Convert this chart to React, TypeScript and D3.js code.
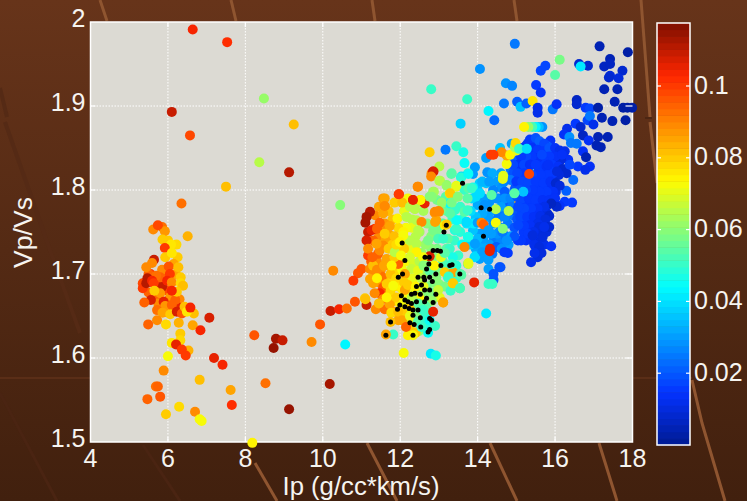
import React, { useEffect, useRef } from 'react';
import * as d3 from 'd3';

type Pt = [number, number, number];

const xTicks = [4, 6, 8, 10, 12, 14, 16, 18];
const yTicks = [1.5, 1.6, 1.7, 1.8, 1.9, 2];
const colorTicks = [0.02, 0.04, 0.06, 0.08, 0.1];
const COLOR_MAX = 0.1176;

// ip, vp/vs, porosity
const leftFill: Pt[] = [
  [5.55,1.7,.1],[5.75,1.685,.1],[5.9,1.7,.095],[6,1.68,.098],[5.85,1.685,.11],[5.7,1.67,.095],[5.95,1.655,.095],[6.15,1.66,.1],[6.2,1.7,.085],[6.25,1.72,.08],[6,1.74,.08],[5.5,1.7,.095],[5.75,1.665,.09],[6.3,1.67,.09],[6.28,1.66,.105],[5.98,1.668,.1],[5.85,1.705,.09],[6.15,1.712,.085],[6.22,1.735,.078],[5.5,1.678,.095],
];

const leftPoints: Pt[] = [
  [6.64,1.991,.104],[7.53,1.976,.102],[6.1,1.893,.109],[6.57,1.865,.098],[8.48,1.909,.062],[9.25,1.878,.082],[8.36,1.833,.066],[9.13,1.821,.111],[7.5,1.804,.082],[10.45,1.782,.06],[6.35,1.784,.092],
  [5.85,1.756,.092],[5.62,1.753,.09],[5.92,1.751,.088],[5.74,1.758,.098],[5.86,1.741,.08],[6.51,1.745,.083],[6.08,1.735,.077],[5.92,1.731,.1],
  [5.64,1.717,.11],[5.59,1.713,.09],[5.44,1.708,.09],[5.93,1.72,.08],[6.1,1.725,.076],[6.02,1.709,.097],[6.27,1.708,.082],
  [6.05,1.7,.1],[5.8,1.696,.095],[5.7,1.698,.092],[5.35,1.689,.098],[5.35,1.683,.1],[5.47,1.695,.112],[5.44,1.689,.112],[5.59,1.692,.104],[5.63,1.689,.1],[5.98,1.692,.104],[6.1,1.69,.09],
  [6.33,1.696,.08],[6.33,1.689,.079],[6.39,1.686,.082],[6.15,1.674,.098],[5.8,1.677,.088],[5.65,1.68,.08],[6.06,1.673,.088],[6.19,1.669,.095],[6.23,1.679,.08],[6.1,1.68,.103],
  [5.56,1.669,.108],[5.39,1.666,.095],[5.89,1.667,.105],[5.93,1.662,.088],[6.1,1.663,.095],[5.72,1.657,.092],[5.86,1.654,.085],[6.06,1.652,.08],[6.23,1.655,.107],[6.36,1.653,.097],[6.43,1.661,.082],[6.67,1.653,.082],[6.49,1.655,.077],[6.58,1.66,.103],[7.07,1.648,.108],
  [5.72,1.645,.09],[5.49,1.64,.095],[5.95,1.64,.078],[6.28,1.642,.083],[6.64,1.639,.085],[6.84,1.633,.104],[6.32,1.629,.08],[6.32,1.621,.078],[6.1,1.618,.076],[6.53,1.609,.083],[6.21,1.616,.105],[6.36,1.61,.1],[6.46,1.603,.1],[6.0,1.602,.072],[7.19,1.6,.106],[7.41,1.592,.103],
  [5.89,1.585,.09],[6.82,1.574,.082],[5.69,1.566,.092],[5.74,1.566,.095],[7.62,1.562,.085],[8.52,1.57,.093],[5.8,1.554,.096],[5.47,1.551,.094],[7.65,1.544,.102],[6.29,1.542,.079],[6.7,1.536,.09],[5.95,1.533,.08],[6.82,1.527,.072],[6.87,1.525,.072],[9.13,1.539,.114],[8.18,1.499,.074],[10.18,1.569,.113],
  [8.23,1.627,.097],[8.79,1.623,.113],[8.96,1.621,.11],[8.73,1.612,.115],[9.71,1.619,.09],[10.58,1.616,.043],[9.93,1.64,.097],[10.2,1.656,.11],[10.42,1.658,.103],[10.62,1.659,.093],[10.83,1.667,.096],[10.27,1.704,.09],
];

const upperRightPoints: Pt[] = [
  [14.96,1.974,.024],[14.06,1.944,.028],[12.8,1.92,.05],[13.73,1.908,.05],[14.28,1.894,.043],[14.43,1.883,.023],[13.56,1.879,.038],[14.73,1.927,.028],[14.89,1.924,.027],[15.51,1.925,.016],[15.63,1.916,.014],[15.63,1.942,.018],[15.75,1.948,.018],[16.12,1.955,.058],[16,1.937,.055],[16.62,1.95,.008],[16.85,1.948,.008],[16.66,1.947,.042],
  [17.15,1.971,.004],[17.42,1.956,.004],[17.88,1.964,.003],[17.27,1.947,.006],[17.42,1.95,.006],[17.74,1.942,.008],[17.42,1.936,.01],[17.39,1.934,.009],[17.64,1.933,.011],[17.27,1.92,.005],[17.61,1.92,.005],[16.56,1.907,.007],[16.56,1.902,.008],[17.54,1.905,.005],[16.79,1.898,.015],[16.9,1.897,.018],[17.11,1.898,.003],[17.76,1.898,.003],[17.87,1.898,.003],[17.99,1.898,.003],[17.21,1.886,.004],[17.48,1.882,.004],[17.82,1.883,.003],[16.84,1.883,.018],[16.9,1.888,.025],[16.99,1.878,.012],
  [14.68,1.903,.025],[15.02,1.905,.022],[15.11,1.899,.035],[15.26,1.903,.022],[15.42,1.906,.077],[15.55,1.898,.012],[15.55,1.892,.012],[15.94,1.896,.024],[16.04,1.902,.013],
  [15.67,1.875,.028],[15.58,1.875,.035],[15.5,1.875,.043],[15.41,1.875,.052],[15.31,1.875,.062],[15.2,1.875,.075],
  [16.53,1.879,.015],[16.66,1.875,.008],[16.31,1.873,.012],[16.23,1.866,.013],[16.72,1.865,.007],[16.37,1.863,.028],[16.41,1.856,.025],[16.56,1.855,.025],[16.87,1.859,.014],[17.11,1.863,.005],[17.36,1.863,.005],[17.07,1.853,.005],[17.18,1.851,.004],[16.72,1.846,.013],[16.8,1.839,.004],[15.88,1.859,.014],[16.34,1.836,.014],[16.59,1.828,.015],[16.9,1.828,.013],[16.78,1.824,.012],[16.47,1.812,.023],[16.29,1.799,.022],[16.25,1.786,.015],[16.44,1.785,.015],[16.12,1.781,.014],
];

const cyanPoints: Pt[] = [
  [13.93,1.827,.03],[13.88,1.819,.03],[14.25,1.821,.028],[14.22,1.838,.03],[14.58,1.85,.035],[14.88,1.855,.03],[13.17,1.848,.024],[14.5,1.81,.03],[14.62,1.802,.028],[14.4,1.8,.027],[14.55,1.79,.025],[14.7,1.798,.022],[14.3,1.785,.028],[14.15,1.79,.03],[14.0,1.782,.032],[14.45,1.775,.026],[14.62,1.772,.024],[14.78,1.78,.022],[14.9,1.77,.024],[14.28,1.768,.03],[14.12,1.772,.033],[13.95,1.768,.036],[13.82,1.775,.04],[14.4,1.76,.028],[14.6,1.755,.026],[14.78,1.76,.024],[14.95,1.755,.02],[14.2,1.752,.03],[14.05,1.748,.03],[13.88,1.752,.036],[13.72,1.76,.042],[14.42,1.742,.025],[14.58,1.738,.027],[14.72,1.745,.024],[14.8,1.735,.03],[14.3,1.735,.03],[14.1,1.735,.032],[13.95,1.73,.032],[13.8,1.735,.038],[14.2,1.725,.03],[14.38,1.724,.025],[14.05,1.718,.03],[13.94,1.721,.04],[14.28,1.717,.03],[14.28,1.706,.03],[14.59,1.708,.02],[14.41,1.693,.02],[14.48,1.76,.03],[14.86,1.745,.03],
  [14.6,1.82,.03],[14.75,1.815,.026],[14.85,1.825,.024],[14.95,1.835,.022],[14.8,1.835,.024],[14.7,1.79,.028],[14.95,1.8,.022],[14.85,1.79,.026],[14.6,1.78,.03],[14.22,1.808,.035],[14.05,1.808,.038],[14.38,1.82,.032],
  [14.18,1.782,.028],[14.36,1.776,.03],[14.52,1.766,.024],[14.7,1.768,.026],[14.88,1.78,.024],[14.5,1.748,.028],[14.64,1.75,.024],[14.35,1.748,.03],[14.15,1.742,.03],[14,1.742,.034],[14.48,1.732,.022],[14.62,1.73,.028],[14.12,1.726,.03],[13.85,1.79,.04],[14,1.8,.036],[14.12,1.81,.034],[14.3,1.81,.03],[14.48,1.79,.028],[14.68,1.81,.026],[14.92,1.812,.024],[13.95,1.792,.04],[13.9,1.76,.042],
];

const hiddenGreens: Pt[] = [[15.45,1.829,.06],[15.5,1.82,.06],[15.22,1.788,.06],[15.5,1.79,.07],[14.98,1.79,.085]];

const blueFill: Pt[] = [
  [15.15,1.85,.017],[15.3,1.856,.017],[15.45,1.856,.015],[15.62,1.852,.017],[15.8,1.852,.021],[15.92,1.845,.016],[16.08,1.84,.015],[15.3,1.845,.016],[15.48,1.844,.017],[15.62,1.834,.015],[15.9,1.835,.014],[16.05,1.834,.012],[15.15,1.835,.017],[15.3,1.824,.018],[15.45,1.812,.016],[15.58,1.824,.016],[15.72,1.824,.015],[15.88,1.824,.014],[16,1.826,.013],[15.1,1.825,.018],[14.98,1.825,.02],[15.08,1.815,.018],[15.22,1.815,.017],[15.38,1.813,.016],[15.6,1.812,.015],[15.75,1.813,.015],[15.95,1.814,.013],[14.92,1.82,.02],[14.98,1.804,.02],[15.12,1.804,.018],[15.25,1.805,.017],[15.4,1.805,.016],[15.58,1.804,.015],[15.72,1.803,.014],[15.88,1.802,.013],[16.02,1.798,.012],[15.2,1.794,.018],[15.35,1.795,.016],[15.55,1.793,.015],[15.7,1.794,.014],[15.85,1.794,.012],[15.98,1.785,.011],[15.02,1.792,.02],[15.1,1.784,.018],[15.27,1.784,.016],[15.45,1.783,.015],[15.6,1.783,.014],[15.8,1.782,.012],[14.98,1.775,.02],[15.15,1.773,.017],[15.32,1.773,.016],[15.5,1.773,.014],[15.68,1.775,.013],[15.8,1.772,.011],[15.02,1.765,.019],[15.18,1.763,.017],[15.38,1.764,.015],[15.55,1.766,.013],[15.7,1.762,.011],[15.28,1.755,.016],[15.45,1.758,.014],[15.62,1.75,.011],[15.78,1.75,.01],[15.18,1.75,.016],[15.36,1.742,.014],[15.5,1.74,.012],[15.62,1.738,.011],[15.25,1.74,.014],[15.72,1.735,.012],[15.55,1.72,.011],[15.46,1.735,.012],
];

const blueCluster: Pt[] = [
  [15.35,1.86,.015],[15.5,1.862,.019],[15.6,1.858,.022],[15.72,1.855,.017],[15.25,1.853,.015],[15.4,1.85,.014],[15.55,1.848,.016],[15.7,1.846,.016],[15.85,1.85,.019],[16,1.85,.014],[16.12,1.847,.012],[16.25,1.846,.012],[16.15,1.836,.01],[16,1.84,.013],[15.85,1.84,.016],[15.7,1.836,.016],[15.55,1.838,.014],[15.4,1.84,.015],[15.25,1.84,.017],[15.12,1.84,.015],[15.05,1.83,.014],[15.2,1.83,.017],[15.35,1.83,.014],[15.6,1.828,.016],[15.78,1.828,.014],[15.92,1.83,.016],[16.08,1.828,.014],[16.2,1.825,.009],[16.3,1.82,.009],[16.38,1.83,.018],[16.1,1.818,.011],[15.95,1.82,.016],[15.8,1.818,.015],[15.62,1.818,.016],[15.4,1.818,.017],[15.2,1.82,.015],[15.02,1.82,.017],[14.92,1.83,.018],[14.85,1.812,.024],[15,1.81,.016],[15.15,1.81,.017],[15.3,1.808,.017],[15.5,1.81,.016],[15.7,1.808,.016],[15.88,1.81,.014],[16.02,1.808,.009],[16.12,1.805,.01],[15.95,1.798,.014],[15.78,1.798,.015],[15.6,1.798,.015],[15.42,1.8,.016],[15.25,1.8,.018],[15.08,1.8,.019],[15.15,1.79,.017],[15.32,1.79,.016],[15.5,1.788,.016],[15.68,1.788,.014],[15.85,1.788,.014],[16,1.79,.014],[16.04,1.78,.008],[15.9,1.784,.007],[15.72,1.78,.012],[15.55,1.778,.014],[15.38,1.778,.015],[15.2,1.778,.017],[15.05,1.78,.018],[15.1,1.768,.017],[15.28,1.768,.015],[15.45,1.768,.014],[15.62,1.769,.012],[15.85,1.769,.009],[15.75,1.765,.011],[15.55,1.76,.012],[15.35,1.758,.014],[15.2,1.757,.015],[15.05,1.758,.018],[15.85,1.756,.009],[15.59,1.756,.01],[15.72,1.756,.012],[15.45,1.75,.012],[15.3,1.748,.015],[15.68,1.744,.01],[15.42,1.746,.011],[15.12,1.74,.016],[15.04,1.74,.016],[15.9,1.733,.013],[15.59,1.732,.01],[15.65,1.725,.01],[15.47,1.725,.012],[15.38,1.714,.012],[14.95,1.745,.02],[14.78,1.725,.015],[14.69,1.726,.015],[14.56,1.708,.02],[14.75,1.74,.028],
  [16.18,1.842,.013],[16.05,1.822,.01],[15.5,1.83,.016],[15.66,1.842,.018],[15.82,1.83,.013],
];

const midFill: Pt[] = [
  [11.35,1.77,.09],[11.45,1.78,.085],[11.7,1.775,.082],[11.85,1.785,.08],[12.1,1.775,.07],[12.2,1.79,.072],[12.45,1.785,.066],[12.6,1.775,.064],[12.3,1.765,.066],[12.5,1.75,.064],[12.7,1.76,.06],[12.8,1.745,.06],[12.95,1.752,.058],[13.1,1.76,.055],[13.2,1.775,.055],[13.05,1.775,.058],[12.95,1.788,.058],[13.18,1.792,.055],[13.35,1.765,.05],[13.55,1.78,.05],[13.6,1.765,.048],[13.55,1.75,.048],[13.4,1.74,.05],[13.6,1.735,.045],[13.5,1.722,.05],[13.2,1.73,.055],[13.1,1.715,.055],[12.95,1.73,.058],[12.8,1.73,.06],[12.65,1.735,.062],[12.55,1.725,.062],[12.4,1.745,.066],[12.3,1.755,.07],[12.15,1.755,.072],[12.1,1.738,.072],[12.25,1.73,.07],[11.95,1.755,.078],[11.8,1.765,.082],[11.6,1.76,.088],[11.45,1.745,.09],[11.3,1.74,.095],[11.62,1.74,.085],[11.8,1.735,.08],[11.95,1.725,.075],[12.15,1.715,.072],[12.35,1.712,.068],[12.5,1.715,.065],[12.7,1.72,.06],[12.85,1.72,.06],[12.98,1.705,.058],[13.2,1.71,.052],[13.3,1.7,.05],[13.45,1.71,.048],[13.45,1.695,.05],
  [11.25,1.715,.095],[11.4,1.715,.09],[11.5,1.705,.088],[11.7,1.71,.082],[11.9,1.705,.078],[12.05,1.705,.072],[12.2,1.695,.07],[12.35,1.695,.07],[12.5,1.705,.066],[12.65,1.7,.062],[12.85,1.69,.06],[13,1.688,.06],[13.15,1.685,.058],[13.3,1.68,.05],[11.35,1.7,.09],[11.45,1.69,.088],[11.6,1.695,.085],[11.75,1.69,.078],[11.95,1.685,.076],[12.05,1.682,.075],[12.25,1.68,.07],[12.4,1.67,.066],[12.55,1.68,.06],[12.7,1.685,.058],[12.88,1.678,.056],[13.02,1.672,.07],[11.55,1.68,.09],[11.7,1.675,.085],[11.85,1.668,.08],[12,1.665,.075],[12.15,1.672,.072],[12.2,1.658,.07],[12.35,1.66,.062],[12.5,1.665,.056],[12.7,1.665,.052],[12.75,1.655,.05],[12.6,1.648,.05],[12.4,1.645,.055],[12.2,1.645,.07],[11.95,1.645,.085],[12.05,1.655,.08],[11.85,1.655,.085],[12.48,1.632,.06],[12.7,1.64,.048],[12.25,1.635,.08],[12.4,1.63,.08],
];

const midPoints: Pt[] = [
  [11.13,1.663,.11],[11.22,1.774,.112],[11.13,1.768,.113],[11.1,1.761,.113],[11.17,1.75,.11],[11.13,1.74,.107],[11.17,1.722,.1],[11,1.706,.097],[10.91,1.701,.097],[10.79,1.692,.1],[11.09,1.671,.08],[11.37,1.658,.09],[11.6,1.658,.092],[11.1,1.67,.082],
  [11.52,1.752,.09],[11.47,1.761,.095],[11.6,1.781,.09],[11.56,1.79,.087],[11.56,1.772,.085],[11.96,1.795,.1],[12.33,1.788,.105],[12.45,1.804,.09],[12.63,1.784,.105],[12.05,1.785,.082],[12.52,1.788,.078],[11.93,1.766,.075],[11.73,1.757,.085],[11.35,1.754,.1],[11.26,1.752,.105],[11.4,1.754,.095],[12.08,1.75,.075],
  [11.73,1.746,.085],[11.56,1.734,.09],[11.43,1.724,.095],[11.47,1.728,.09],[11.17,1.73,.09],[11.39,1.736,.085],[11.65,1.718,.085],[11.95,1.712,.095],[11.22,1.706,.09],[11.22,1.694,.085],[11.52,1.697,.093],[11.3,1.689,.085],[11.56,1.684,.097],[11.47,1.677,.103],[11.34,1.677,.09],[11.73,1.664,.085],[11.77,1.654,.078],[11.3,1.71,.082],[11.4,1.705,.09],[11.58,1.71,.085],[11.75,1.7,.082],[11.65,1.688,.08],[11.4,1.695,.075],[11.28,1.72,.095],[11.6,1.748,.08],[11.85,1.745,.082],[11.7,1.73,.08],[11.85,1.72,.08],[11.78,1.71,.075],[11.9,1.695,.078],[11.55,1.67,.09],[11.75,1.68,.078],[11.9,1.672,.08],[11.45,1.665,.082],[11.65,1.672,.075],[11.95,1.655,.082],[11.82,1.686,.072],[11.86,1.726,.065],[12.1,1.73,.08],[12.02,1.722,.072],[11.9,1.735,.078],
  [12.25,1.78,.065],[12.38,1.777,.065],[12.16,1.768,.065],[12.42,1.764,.065],[12.55,1.762,.09],[12.89,1.773,.088],[13,1.774,.09],[12.93,1.764,.085],[13.15,1.758,.075],[13.28,1.796,.075],[13.45,1.792,.06],[12.81,1.82,.09],[12.85,1.822,.108],[13.03,1.811,.065],[13.2,1.806,.06],[12.85,1.798,.062],[12.76,1.792,.06],[13.33,1.82,.055],[13.45,1.804,.07],[13.66,1.8,.05],[13.88,1.803,.045],[13.75,1.82,.05],[13.58,1.816,.04],[13.28,1.784,.045],[13.41,1.776,.05],[13.66,1.774,.055],[13.06,1.786,.055],[13.45,1.764,.05],[13.71,1.762,.038],[14,1.761,.03],[13.75,1.744,.045],[13.66,1.732,.09],[13.92,1.72,.04],[13.75,1.712,.042],[13.76,1.713,.07],[13.41,1.752,.048],[13.23,1.742,.055],[13.45,1.754,.05],[12.85,1.752,.058],[12.72,1.74,.058],[12.98,1.742,.052],[13.11,1.742,.05],[13.28,1.73,.05],[13.36,1.72,.047],[12.46,1.752,.065],[12.25,1.74,.065],[12.42,1.736,.066],[12.08,1.746,.073],[11.99,1.738,.075],[12.76,1.721,.107],[12.59,1.72,.072],[12.42,1.726,.075],[12.25,1.72,.068],[12.29,1.706,.067],[12.46,1.704,.07],[12.12,1.7,.085],[12.1,1.69,.08],[12.12,1.681,.085],[12.2,1.687,.08],[12.08,1.665,.072],[12.29,1.661,.08],[12.5,1.673,.075],[12.72,1.677,.06],[12.98,1.681,.067],[13.11,1.666,.085],[13.23,1.696,.05],[13.36,1.689,.08],[13.54,1.683,.052],[12.76,1.704,.055],[12.93,1.696,.06],[13.15,1.702,.08],[13.37,1.702,.085],[13.58,1.699,.055],[13.05,1.72,.07],[12.88,1.71,.075],[12.6,1.71,.06],[13.15,1.725,.055],[12.55,1.695,.065],[12.4,1.685,.075],[12.6,1.685,.07],[12.82,1.668,.062],[12.65,1.662,.055],[12.45,1.655,.06],[12.3,1.672,.065],[12.05,1.645,.085],
  [12.76,1.645,.045],[12.72,1.63,.045],[12.55,1.637,.05],[12.85,1.655,.105],[12.9,1.638,.05],[12.33,1.627,.073],[12.2,1.627,.075],[11.82,1.628,.05],[11.63,1.628,.085],[11.75,1.643,.082],[12.15,1.637,.095],[12.46,1.665,.055],[12.59,1.657,.05],[12.25,1.65,.07],
  [12.76,1.845,.08],[13.45,1.852,.05],[13.63,1.845,.047],[13.66,1.832,.045],[13.01,1.828,.065],[12.86,1.822,.108],[12.8,1.816,.09],[13.32,1.819,.055],[13.01,1.811,.065],[13.57,1.815,.048],[13.76,1.819,.045],[12.46,1.804,.09],[11.97,1.795,.1],[12.52,1.788,.075],[12.33,1.788,.105],[11.6,1.79,.085],[11.6,1.781,.09],[13.2,1.805,.062],[13.45,1.805,.07],[13.76,1.802,.055],[13.85,1.802,.05],[13.29,1.796,.08],[12.87,1.798,.063],[12.82,1.792,.06],[13.07,1.785,.062],[13.33,1.785,.058],[13.49,1.792,.06],[13.74,1.79,.055],[14.06,1.796,.04],[13.74,1.776,.05],[13.72,1.762,.04],[12.9,1.774,.09],[12.99,1.775,.09],[12.9,1.762,.085],[13.2,1.759,.08],[13.46,1.764,.045],[13.29,1.772,.055],
  [13.76,1.744,.047],[13.93,1.736,.03],[13.33,1.712,.05],[13.55,1.7,.055],[13.25,1.697,.05],[13.54,1.683,.052],[13.36,1.689,.08],[13.11,1.666,.085],
];

const accentPoints: Pt[] = [
  [14.1,1.761,.09],[14.15,1.759,.095],[14.47,1.761,.073],[14.65,1.754,.06],[14.8,1.775,.065],[14.47,1.777,.065],[14.28,1.752,.03],[14.32,1.73,.105],[14.36,1.794,.055],[15.18,1.798,.035],[14.95,1.796,.055],[15.33,1.819,.098],[14.66,1.817,.07],[14.65,1.813,.07],[14.75,1.831,.072],[14.75,1.841,.085],[14.62,1.845,.09],[14.41,1.842,.1],[14.34,1.842,.1],[14.84,1.842,.075],[15.01,1.847,.07],[14.96,1.851,.063],[14.98,1.856,.078],[15.07,1.849,.05],[15.27,1.849,.04],[13.91,1.69,.105],[14.28,1.688,.05],[14.38,1.688,.05],[14.22,1.653,.042],[14.31,1.727,.105],[14.41,1.7,.02],[12.09,1.606,.073],[12.79,1.605,.042],[12.92,1.603,.047],[13.76,1.712,.07],[13.54,1.683,.052],
];

const blackPoints: [number, number][] = [
  [11.63,1.627],[11.75,1.643],[12.33,1.627],[12.72,1.631],[12.76,1.634],[12.53,1.637],[12.36,1.64],[12.25,1.642],[12.52,1.648],[12.76,1.647],[12.81,1.645],[11.93,1.658],[11.99,1.663],[12.03,1.674],[12.12,1.669],[12.2,1.667],[12.29,1.665],[12.42,1.667],[12.12,1.661],[12.23,1.659],[12.33,1.657],[12.33,1.651],[12.46,1.657],[12.63,1.667],[12.68,1.671],[12.85,1.666],[12.92,1.676],[12.76,1.681],[12.63,1.681],[12.52,1.676],[12.38,1.677],[12.29,1.676],[12.42,1.685],[12.55,1.687],[12.63,1.693],[12.46,1.696],[12.61,1.696],[12.76,1.696],[12.83,1.691],[12.68,1.706],[12.74,1.712],[12.64,1.72],[12.75,1.72],[12.85,1.728],[12.96,1.728],[13.04,1.727],[13.05,1.71],[13.28,1.71],[13.34,1.711],[12.92,1.7],[13.54,1.7],[12.12,1.716],[12.05,1.737],[12.06,1.7],[11.95,1.696],[13.13,1.75],[13.19,1.758],[13.61,1.808],[14.09,1.779],[14.31,1.777],[14.15,1.745],
];

// decorative streaks in the page backdrop
const streaks: { path: [number, number][]; color: string; w: number }[] = [
  { path: [[100,0],[107,21]], color: '#8f5530', w: 3 },
  { path: [[231,0],[236,21]], color: '#8f5530', w: 3 },
  { path: [[372,0],[375,21]], color: '#8f5530', w: 3 },
  { path: [[514,0],[517,21]], color: '#8f5530', w: 3 },
  { path: [[641,0],[650,117]], color: '#8f5530', w: 3 },
  { path: [[650,122],[657,183]], color: '#8f5530', w: 3 },
  { path: [[692,380],[702,423],[725,501]], color: '#8f5530', w: 3 },
  { path: [[599,443],[617,501]], color: '#8f5530', w: 3 },
  { path: [[490,443],[517,501]], color: '#8f5530', w: 3 },
  { path: [[255,463],[277,501]], color: '#8f5530', w: 3 },
  { path: [[367,443],[397,501]], color: '#8f5530', w: 3 },
  { path: [[0,88],[7,117]], color: '#552a15', w: 4 },
  { path: [[5,122],[50,250],[80,333]], color: '#552a15', w: 4 },
  { path: [[0,393],[57,501]], color: '#4a2412', w: 3 },
  { path: [[143,445],[180,501]], color: '#4a2412', w: 3 },
  { path: [[0,378],[90,378]], color: '#5a2e17', w: 2 },
  { path: [[633,378],[692,378]], color: '#5a2e17', w: 2 },
  { path: [[645,118],[652,118]], color: '#4c2613', w: 2 },
];

const W = 747, H = 501;
const FONT = '"Liberation Sans", Arial, sans-serif';
const TEXT = '#f6f4f0';

// jet, as the reference's colour-managed render shows it
const jet = d3.scaleLinear<string>()
  .domain([0, 0.125, 0.375, 0.625, 0.875, 1])
  .range(['#001a92', '#0433ff', '#00fdff', '#fffb00', '#ff2600', '#7e0f00'])
  .clamp(true);

export default function App() {
  const ref = useRef<SVGSVGElement>(null);

  useEffect(() => {
    const svg = d3.select(ref.current);
    svg.selectAll('*').remove();

    const x = d3.scaleLinear().domain([4, 18]).range([90.5, 632.5]);
    const y = d3.scaleLinear().domain([1.5, 2]).range([442, 22]);
    const cScale = d3.scaleLinear().domain([0, 0.1]).range([445, 86]);
    const steps = d3.range(64);
    const color = (v: number) => jet((Math.min(63, Math.floor((v / COLOR_MAX) * 64)) + 0.5) / 64);

    // backdrop
    const grad = svg.append('defs').append('linearGradient')
      .attr('id', 'bg').attr('x1', 0).attr('x2', 0).attr('y1', 0).attr('y2', 1);
    grad.append('stop').attr('offset', '0%').attr('stop-color', '#67341a');
    grad.append('stop').attr('offset', '100%').attr('stop-color', '#41200e');
    svg.append('rect').attr('width', W).attr('height', H).attr('fill', 'url(#bg)');

    const line = d3.line();
    svg.append('g').selectAll('path').data(streaks).join('path')
      .attr('d', d => line(d.path))
      .attr('fill', 'none')
      .attr('stroke', d => d.color)
      .attr('stroke-width', d => d.w);

    // plot area
    svg.append('rect')
      .attr('x', x(4)).attr('y', y(2))
      .attr('width', x(18) - x(4)).attr('height', y(1.5) - y(2))
      .attr('fill', '#dcdad3');

    const grid = svg.append('g').attr('stroke', '#fff').attr('stroke-width', 1).attr('stroke-dasharray', '1.5 1.5');
    grid.selectAll('.gx').data(xTicks.slice(1, -1)).join('line')
      .attr('x1', d => x(d)).attr('x2', d => x(d)).attr('y1', y(2)).attr('y2', y(1.5));
    grid.selectAll('.gy').data(yTicks.slice(1, -1)).join('line')
      .attr('x1', x(4)).attr('x2', x(18)).attr('y1', d => y(d)).attr('y2', d => y(d));

    // frame
    svg.append('rect')
      .attr('x', x(4)).attr('y', y(2))
      .attr('width', x(18) - x(4)).attr('height', y(1.5) - y(2))
      .attr('fill', 'none').attr('stroke', '#fff').attr('stroke-width', 1.5);

    // edge ticks
    const ticks = svg.append('g').attr('stroke', '#fff').attr('stroke-width', 1.2);
    xTicks.slice(1, -1).forEach(t => {
      ticks.append('line').attr('x1', x(t)).attr('x2', x(t)).attr('y1', y(2)).attr('y2', y(2) + 5);
      ticks.append('line').attr('x1', x(t)).attr('x2', x(t)).attr('y1', y(1.5)).attr('y2', y(1.5) - 5);
    });
    yTicks.slice(1, -1).forEach(t => {
      ticks.append('line').attr('x1', x(4)).attr('x2', x(4) + 5).attr('y1', y(t)).attr('y2', y(t));
      ticks.append('line').attr('x1', x(18)).attr('x2', x(18) - 7).attr('y1', y(t)).attr('y2', y(t));
    });

    // scatter
    const groups = [leftFill, leftPoints, upperRightPoints, hiddenGreens, cyanPoints, blueFill, blueCluster, midFill, midPoints, accentPoints];
    groups.forEach(pts => {
      svg.append('g').selectAll('circle').data(pts).join('circle')
        .attr('cx', d => x(d[0])).attr('cy', d => y(d[1])).attr('r', 5)
        .attr('fill', d => color(d[2]));
    });
    svg.append('g').selectAll('circle').data(blackPoints).join('circle')
      .attr('cx', d => x(d[0])).attr('cy', d => y(d[1])).attr('r', 2.5)
      .attr('fill', '#000');

    // tick labels
    const tickText = (sel: any) => sel
      .attr('fill', TEXT).attr('font-family', FONT).attr('font-size', 25);
    svg.append('g').selectAll('text').data(xTicks).join('text')
      .call(tickText)
      .attr('x', d => x(d)).attr('y', 467).attr('text-anchor', 'middle')
      .text(d => d3.format('d')(d));
    svg.append('g').selectAll('text').data(yTicks).join('text')
      .call(tickText)
      .attr('x', 85.5).attr('y', d => y(d) + 5)
      .attr('text-anchor', 'end')
      .text(d => String(d));

    // axis titles
    svg.append('text').call(tickText)
      .attr('font-size', 25.7).attr('x', 361).attr('y', 495).attr('text-anchor', 'middle')
      .text('Ip (g/cc*km/s)');
    svg.append('text').call(tickText)
      .attr('font-size', 26.6).attr('text-anchor', 'middle')
      .attr('transform', 'translate(32,232.5) rotate(-90)')
      .text('Vp/Vs');

    // colorbar
    const cbX = 657, cbW = 33, cbTop = 23, cbBottom = 445;
    const stepH = (cbBottom - cbTop) / 64;
    svg.append('g').selectAll('rect').data(steps).join('rect')
      .attr('x', cbX).attr('width', cbW)
      .attr('y', d => cbBottom - (d + 1) * stepH).attr('height', stepH + 0.5)
      .attr('fill', d => jet((d + 0.5) / 64));
    svg.append('rect')
      .attr('x', cbX).attr('y', cbTop).attr('width', cbW).attr('height', cbBottom - cbTop)
      .attr('fill', 'none').attr('stroke', '#fff').attr('stroke-width', 1.5);
    colorTicks.forEach(t => {
      ticks.append('line').attr('x1', cbX).attr('x2', cbX + 4).attr('y1', cScale(t)).attr('y2', cScale(t));
      ticks.append('line').attr('x1', cbX + cbW).attr('x2', cbX + cbW - 4).attr('y1', cScale(t)).attr('y2', cScale(t));
    });
    ticks.raise();
    svg.append('g').selectAll('text').data(colorTicks).join('text')
      .call(tickText)
      .attr('x', 694).attr('y', d => cScale(d) + 7.5)
      .text(d => String(d));
  }, []);

  return (
    <svg
      ref={ref}
      width={W}
      height={H}
      style={{ position: 'absolute', left: 0, top: 0, display: 'block' }}
    />
  );
}
